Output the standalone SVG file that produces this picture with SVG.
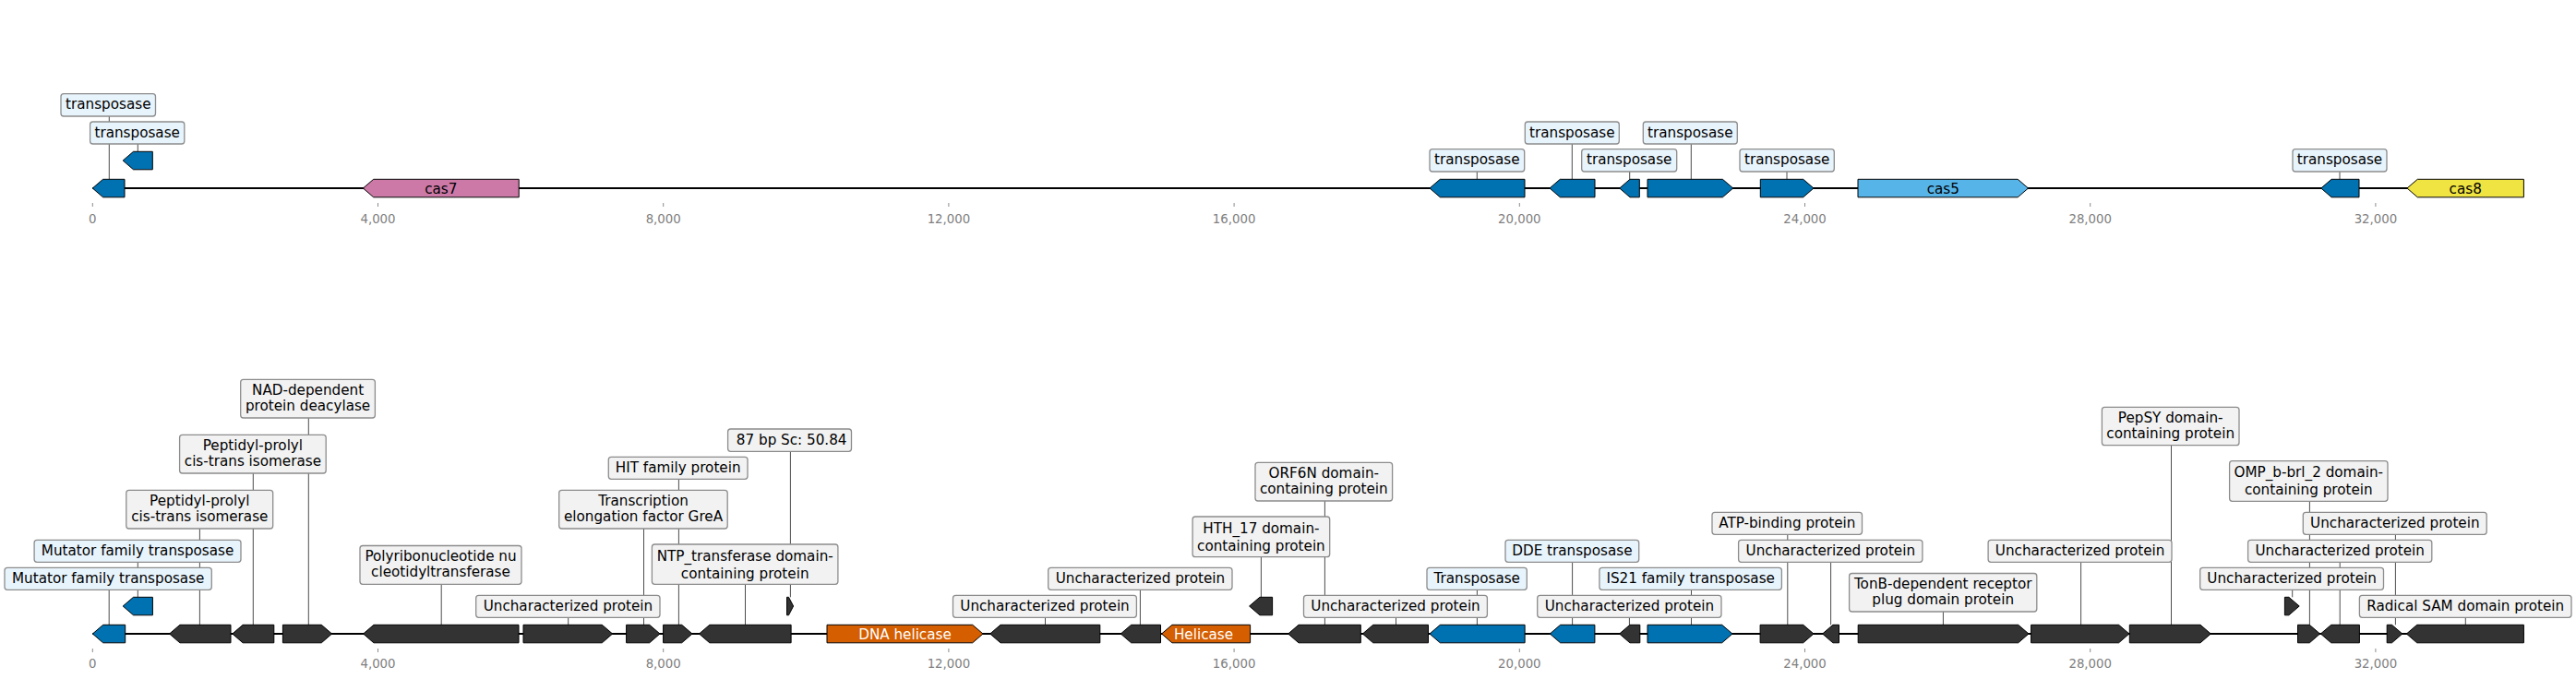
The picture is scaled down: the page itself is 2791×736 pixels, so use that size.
<svg xmlns="http://www.w3.org/2000/svg" width="2791" height="736" viewBox="0 0 2791 736">
<style>
.bb{stroke:#000;stroke-width:2}
.g{stroke:#000;stroke-width:1}
.dk{fill:#333333}
.bl{fill:#0072B2}
.pk{fill:#CC79A7}
.sk{fill:#56B4E9}
.ye{fill:#F0E442}
.or{fill:#D55E00}
.lb{fill:#e8f4fc;stroke:#8c8c8c;stroke-width:1.3}
.gy{fill:#f2f2f2;stroke:#8c8c8c;stroke-width:1.3}
.cn{stroke:#4d4d4d;stroke-width:1}
.tk{stroke:#8c8c8c;stroke-width:1}
text{font-family:"DejaVu Sans","Liberation Sans",sans-serif}
.l{font-size:15.2px;text-anchor:middle;fill:#000}
.w{font-size:15.2px;text-anchor:middle;fill:#fff}
.t{font-size:13.3px;text-anchor:middle;fill:#808080}
</style>
<rect width="2791" height="736" fill="#fff"/>
<g id="axes">
<line class="bb" x1="100.3" y1="204" x2="2734.4" y2="204"/>
<line class="bb" x1="100.3" y1="687" x2="2734.4" y2="687"/>
<g id="ticks-top">
<line class="tk" x1="100.3" y1="220" x2="100.3" y2="224"/><text class="t" x="100.3" y="241.5">0</text>
<line class="tk" x1="409.5" y1="220" x2="409.5" y2="224"/><text class="t" x="409.5" y="241.5">4,000</text>
<line class="tk" x1="718.7" y1="220" x2="718.7" y2="224"/><text class="t" x="718.7" y="241.5">8,000</text>
<line class="tk" x1="1027.9" y1="220" x2="1027.9" y2="224"/><text class="t" x="1027.9" y="241.5">12,000</text>
<line class="tk" x1="1337.1" y1="220" x2="1337.1" y2="224"/><text class="t" x="1337.1" y="241.5">16,000</text>
<line class="tk" x1="1646.3" y1="220" x2="1646.3" y2="224"/><text class="t" x="1646.3" y="241.5">20,000</text>
<line class="tk" x1="1955.5" y1="220" x2="1955.5" y2="224"/><text class="t" x="1955.5" y="241.5">24,000</text>
<line class="tk" x1="2264.7" y1="220" x2="2264.7" y2="224"/><text class="t" x="2264.7" y="241.5">28,000</text>
<line class="tk" x1="2573.9" y1="220" x2="2573.9" y2="224"/><text class="t" x="2573.9" y="241.5">32,000</text>
</g>
<g id="ticks-bottom">
<line class="tk" x1="100.3" y1="703" x2="100.3" y2="707"/><text class="t" x="100.3" y="724">0</text>
<line class="tk" x1="409.5" y1="703" x2="409.5" y2="707"/><text class="t" x="409.5" y="724">4,000</text>
<line class="tk" x1="718.7" y1="703" x2="718.7" y2="707"/><text class="t" x="718.7" y="724">8,000</text>
<line class="tk" x1="1027.9" y1="703" x2="1027.9" y2="707"/><text class="t" x="1027.9" y="724">12,000</text>
<line class="tk" x1="1337.1" y1="703" x2="1337.1" y2="707"/><text class="t" x="1337.1" y="724">16,000</text>
<line class="tk" x1="1646.3" y1="703" x2="1646.3" y2="707"/><text class="t" x="1646.3" y="724">20,000</text>
<line class="tk" x1="1955.5" y1="703" x2="1955.5" y2="707"/><text class="t" x="1955.5" y="724">24,000</text>
<line class="tk" x1="2264.7" y1="703" x2="2264.7" y2="707"/><text class="t" x="2264.7" y="724">28,000</text>
<line class="tk" x1="2573.9" y1="703" x2="2573.9" y2="707"/><text class="t" x="2573.9" y="724">32,000</text>
</g>
</g>
<g id="connectors">
<line class="cn" x1="118.3" y1="126" x2="118.3" y2="194.3"/>
<line class="cn" x1="149.3" y1="156" x2="149.3" y2="164.3"/>
<line class="cn" x1="1600.3" y1="186" x2="1600.3" y2="194.3"/>
<line class="cn" x1="1703.3" y1="156" x2="1703.3" y2="194.3"/>
<line class="cn" x1="1765.7" y1="186" x2="1765.7" y2="194.3"/>
<line class="cn" x1="1832.3" y1="156" x2="1832.3" y2="194.3"/>
<line class="cn" x1="1936" y1="186" x2="1936" y2="194.3"/>
<line class="cn" x1="2535" y1="186" x2="2535" y2="194.3"/>
<line class="cn" x1="118.2" y1="639.3" x2="118.2" y2="677.3"/>
<line class="cn" x1="149.3" y1="609.3" x2="149.3" y2="647.3"/>
<line class="cn" x1="216.4" y1="573" x2="216.4" y2="677.3"/>
<line class="cn" x1="274.3" y1="513" x2="274.3" y2="677.3"/>
<line class="cn" x1="334.3" y1="453" x2="334.3" y2="677.3"/>
<line class="cn" x1="478.2" y1="633.3" x2="478.2" y2="677.3"/>
<line class="cn" x1="615.7" y1="669.3" x2="615.7" y2="677.3"/>
<line class="cn" x1="697.5" y1="573" x2="697.5" y2="677.3"/>
<line class="cn" x1="735.4" y1="519.3" x2="735.4" y2="677.3"/>
<line class="cn" x1="807.5" y1="633.3" x2="807.5" y2="677.3"/>
<line class="cn" x1="856.4" y1="489.3" x2="856.4" y2="647.3"/>
<line class="cn" x1="1132.5" y1="669.3" x2="1132.5" y2="677.3"/>
<line class="cn" x1="1235.4" y1="639.3" x2="1235.4" y2="677.3"/>
<line class="cn" x1="1366.4" y1="603.7" x2="1366.4" y2="647.3"/>
<line class="cn" x1="1435.4" y1="543" x2="1435.4" y2="677.3"/>
<line class="cn" x1="1512.5" y1="669.3" x2="1512.5" y2="677.3"/>
<line class="cn" x1="1600.4" y1="639.3" x2="1600.4" y2="677.3"/>
<line class="cn" x1="1703.6" y1="609.3" x2="1703.6" y2="677.3"/>
<line class="cn" x1="1765.4" y1="669.3" x2="1765.4" y2="677.3"/>
<line class="cn" x1="1832.5" y1="639.3" x2="1832.5" y2="677.3"/>
<line class="cn" x1="1936.8" y1="579.3" x2="1936.8" y2="677.3"/>
<line class="cn" x1="1983.6" y1="609.3" x2="1983.6" y2="677.3"/>
<line class="cn" x1="2105.4" y1="663" x2="2105.4" y2="677.3"/>
<line class="cn" x1="2254.6" y1="609.3" x2="2254.6" y2="677.3"/>
<line class="cn" x1="2352.5" y1="482.7" x2="2352.5" y2="677.3"/>
<line class="cn" x1="2483.7" y1="639.3" x2="2483.7" y2="647.3"/>
<line class="cn" x1="2502.4" y1="543.3" x2="2502.4" y2="677.3"/>
<line class="cn" x1="2535.2" y1="609.3" x2="2535.2" y2="677.3"/>
<line class="cn" x1="2595.4" y1="579.3" x2="2595.4" y2="677.3"/>
<line class="cn" x1="2671.3" y1="669.3" x2="2671.3" y2="677.3"/>
</g>
<!-- top track -->
<g id="t1"><polygon class="g bl" points="100.3,204 111.6,194.3 135,194.3 135,213.8 111.6,213.8"/><rect class="lb" x="66" y="101.7" width="102.5" height="24.3" rx="3"/><text class="l" x="117.3" y="118.2">transposase</text></g>
<g id="t2"><polygon class="g bl" points="133.2,174 144.5,164.3 165.3,164.3 165.3,183.8 144.5,183.8"/><rect class="lb" x="97.6" y="132" width="102.2" height="24" rx="3"/><text class="l" x="148.7" y="148.5">transposase</text></g>
<g id="t3"><polygon class="g pk" points="393.4,204 404.7,194.3 562.2,194.3 562.2,213.8 404.7,213.8"/><text class="l" x="477.8" y="209.5">cas7</text></g>
<g id="t4"><polygon class="g bl" points="1549,204 1560.3,194.3 1652,194.3 1652,213.8 1560.3,213.8"/><rect class="lb" x="1549" y="161.7" width="102.7" height="24.3" rx="3"/><text class="l" x="1600.3" y="178.2">transposase</text></g>
<g id="t5"><polygon class="g bl" points="1679,204 1690.3,194.3 1728,194.3 1728,213.8 1690.3,213.8"/><rect class="lb" x="1652.3" y="132" width="102" height="24" rx="3"/><text class="l" x="1703.3" y="148.5">transposase</text></g>
<g id="t6"><polygon class="g bl" points="1754.7,204 1766,194.3 1776.3,194.3 1776.3,213.8 1766,213.8"/><rect class="lb" x="1713.7" y="161.7" width="103" height="24.3" rx="3"/><text class="l" x="1765.2" y="178.2">transposase</text></g>
<g id="t7"><polygon class="g bl" points="1785,194.3 1866.4,194.3 1877.7,204 1866.4,213.8 1785,213.8"/><rect class="lb" x="1780.3" y="132" width="102" height="24" rx="3"/><text class="l" x="1831.3" y="148.5">transposase</text></g>
<g id="t8"><polygon class="g bl" points="1907.3,194.3 1953.7,194.3 1965,204 1953.7,213.8 1907.3,213.8"/><rect class="lb" x="1885" y="161.7" width="102.3" height="24.3" rx="3"/><text class="l" x="1936.2" y="178.2">transposase</text></g>
<g id="t9"><polygon class="g sk" points="2013,194.3 2186.2,194.3 2197.5,204 2186.2,213.8 2013,213.8"/><text class="l" x="2105.3" y="209.5">cas5</text></g>
<g id="t10"><polygon class="g bl" points="2514.8,204 2526.1,194.3 2556,194.3 2556,213.8 2526.1,213.8"/><rect class="lb" x="2484" y="161.7" width="102" height="24.3" rx="3"/><text class="l" x="2535" y="178.2">transposase</text></g>
<g id="t11"><polygon class="g ye" points="2608,204 2619.3,194.3 2734.4,194.3 2734.4,213.8 2619.3,213.8"/><text class="l" x="2671.2" y="209.5">cas8</text></g>
<!-- bottom track -->
<g id="b1"><polygon class="g bl" points="100.4,687 111.7,677.3 135.7,677.3 135.7,696.8 111.7,696.8"/><rect class="lb" x="5" y="615.3" width="224.3" height="24" rx="3"/><text class="l" x="117.2" y="631.8">Mutator family transposase</text></g>
<g id="b2"><polygon class="g bl" points="133.2,657 144.5,647.3 165.4,647.3 165.4,666.8 144.5,666.8"/><rect class="lb" x="37.1" y="585.3" width="223.9" height="24" rx="3"/><text class="l" x="149.1" y="601.8">Mutator family transposase</text></g>
<g id="b3"><polygon class="g dk" points="183.6,687 194.9,677.3 250,677.3 250,696.8 194.9,696.8"/><rect class="gy" x="136.8" y="531.3" width="158.9" height="41.7" rx="3"/><text class="l" x="216.3" y="547.5">Peptidyl-prolyl</text><text class="l" x="216.3" y="565">cis-trans isomerase</text></g>
<g id="b4"><polygon class="g dk" points="251.8,687 263.1,677.3 296.8,677.3 296.8,696.8 263.1,696.8"/><rect class="gy" x="194.6" y="471.3" width="158.6" height="41.7" rx="3"/><text class="l" x="273.9" y="487.5">Peptidyl-prolyl</text><text class="l" x="273.9" y="505">cis-trans isomerase</text></g>
<g id="b5"><polygon class="g dk" points="306.4,677.3 348.3,677.3 359.6,687 348.3,696.8 306.4,696.8"/><rect class="gy" x="260.7" y="411.3" width="145.7" height="41.7" rx="3"/><text class="l" x="333.6" y="427.5">NAD-dependent</text><text class="l" x="333.6" y="445">protein deacylase</text></g>
<g id="b6"><polygon class="g dk" points="393.6,687 404.9,677.3 562,677.3 562,696.8 404.9,696.8"/><rect class="gy" x="390" y="591.5" width="175" height="41.8" rx="3"/><text class="l" x="477.5" y="607.7">Polyribonucleotide nu</text><text class="l" x="477.5" y="625.2">cleotidyltransferase</text></g>
<g id="b7"><polygon class="g dk" points="567,677.3 652.3,677.3 663.6,687 652.3,696.8 567,696.8"/><rect class="gy" x="515.7" y="645.3" width="199.3" height="24" rx="3"/><text class="l" x="615.4" y="661.8">Uncharacterized protein</text></g>
<g id="b8"><polygon class="g dk" points="678.6,677.3 703.7,677.3 715,687 703.7,696.8 678.6,696.8"/><rect class="gy" x="605.7" y="531.3" width="182.5" height="41.7" rx="3"/><text class="l" x="697" y="547.5">Transcription</text><text class="l" x="697" y="565">elongation factor GreA</text></g>
<g id="b9"><polygon class="g dk" points="718.6,677.3 738.7,677.3 750,687 738.7,696.8 718.6,696.8"/><rect class="gy" x="659.3" y="495.3" width="150.7" height="24" rx="3"/><text class="l" x="734.7" y="511.8">HIT family protein</text></g>
<g id="b10"><polygon class="g dk" points="757.5,687 768.8,677.3 857.1,677.3 857.1,696.8 768.8,696.8"/><rect class="gy" x="706.4" y="590" width="201.5" height="43.3" rx="3"/><text class="l" x="807.2" y="607.5">NTP_transferase domain-</text><text class="l" x="807.2" y="626.5">containing protein</text></g>
<g id="b11"><polygon class="g dk" points="852.5,647.3 854.5,647.3 859.6,657 854.5,666.8 852.5,666.8"/><rect class="gy" x="788.6" y="465" width="133.9" height="24.3" rx="3"/><text class="l" x="857.7" y="481.5">87 bp Sc: 50.84</text></g>
<g id="b12"><polygon class="g or" points="896,677.3 1053.7,677.3 1065,687 1053.7,696.8 896,696.8"/><text class="w" x="980.5" y="692.5">DNA helicase</text></g>
<g id="b13"><polygon class="g dk" points="1072.7,687 1084,677.3 1191.8,677.3 1191.8,696.8 1084,696.8"/><rect class="gy" x="1032.5" y="645.3" width="198.9" height="24" rx="3"/><text class="l" x="1132" y="661.8">Uncharacterized protein</text></g>
<g id="b14"><polygon class="g dk" points="1214.3,687 1225.6,677.3 1257.5,677.3 1257.5,696.8 1225.6,696.8"/><rect class="gy" x="1135.7" y="615.3" width="199.3" height="24" rx="3"/><text class="l" x="1235.4" y="631.8">Uncharacterized protein</text></g>
<g id="b15"><polygon class="g or" points="1258.6,687 1269.9,677.3 1354.6,677.3 1354.6,696.8 1269.9,696.8"/><text class="w" x="1304" y="692.5">Helicase</text></g>
<g id="b16"><polygon class="g dk" points="1353.6,657 1364.9,647.3 1378.6,647.3 1378.6,666.8 1364.9,666.8"/><rect class="gy" x="1292.1" y="560" width="148.6" height="43.7" rx="3"/><text class="l" x="1366.4" y="577.5">HTH_17 domain-</text><text class="l" x="1366.4" y="596.5">containing protein</text></g>
<g id="b17"><polygon class="g dk" points="1395.7,687 1407,677.3 1474.3,677.3 1474.3,696.8 1407,696.8"/><rect class="gy" x="1360" y="501.3" width="148.6" height="41.7" rx="3"/><text class="l" x="1434.3" y="517.5">ORF6N domain-</text><text class="l" x="1434.3" y="535">containing protein</text></g>
<g id="b18"><polygon class="g dk" points="1476.4,687 1487.7,677.3 1547.5,677.3 1547.5,696.8 1487.7,696.8"/><rect class="gy" x="1412.5" y="645.3" width="198.9" height="24" rx="3"/><text class="l" x="1512" y="661.8">Uncharacterized protein</text></g>
<g id="b19"><polygon class="g bl" points="1549,687 1560.3,677.3 1652.1,677.3 1652.1,696.8 1560.3,696.8"/><rect class="lb" x="1546" y="615.3" width="108.3" height="24" rx="3"/><text class="l" x="1600.2" y="631.8">Transposase</text></g>
<g id="b20"><polygon class="g bl" points="1679.3,687 1690.6,677.3 1727.9,677.3 1727.9,696.8 1690.6,696.8"/><rect class="lb" x="1631" y="585.3" width="144.7" height="24" rx="3"/><text class="l" x="1703.4" y="601.8">DDE transposase</text></g>
<g id="b21"><polygon class="g dk" points="1754.6,687 1765.9,677.3 1776.8,677.3 1776.8,696.8 1765.9,696.8"/><rect class="gy" x="1665.7" y="645.3" width="199.3" height="24" rx="3"/><text class="l" x="1765.4" y="661.8">Uncharacterized protein</text></g>
<g id="b22"><polygon class="g bl" points="1785,677.3 1865.7,677.3 1877,687 1865.7,696.8 1785,696.8"/><rect class="lb" x="1732.9" y="615.3" width="197.5" height="24" rx="3"/><text class="l" x="1831.7" y="631.8">IS21 family transposase</text></g>
<g id="b23"><polygon class="g dk" points="1907.1,677.3 1953.7,677.3 1965,687 1953.7,696.8 1907.1,696.8"/><rect class="gy" x="1855" y="555.3" width="162.5" height="24" rx="3"/><text class="l" x="1936.3" y="571.8">ATP-binding protein</text></g>
<g id="b24"><polygon class="g dk" points="1974.6,687 1985.9,677.3 1992.5,677.3 1992.5,696.8 1985.9,696.8"/><rect class="gy" x="1883.6" y="585.3" width="199.3" height="24" rx="3"/><text class="l" x="1983.3" y="601.8">Uncharacterized protein</text></g>
<g id="b25"><polygon class="g dk" points="2013.2,677.3 2186.7,677.3 2198,687 2186.7,696.8 2013.2,696.8"/><rect class="gy" x="2003.6" y="621.5" width="203.2" height="41.5" rx="3"/><text class="l" x="2105.2" y="637.7">TonB-dependent receptor</text><text class="l" x="2105.2" y="655.2">plug domain protein</text></g>
<g id="b26"><polygon class="g dk" points="2200.6,677.3 2295.6,677.3 2306.9,687 2295.6,696.8 2200.6,696.8"/><rect class="gy" x="2154.1" y="585.3" width="198.9" height="24" rx="3"/><text class="l" x="2253.6" y="601.8">Uncharacterized protein</text></g>
<g id="b27"><polygon class="g dk" points="2307.3,677.3 2384,677.3 2395.3,687 2384,696.8 2307.3,696.8"/><rect class="gy" x="2277.4" y="441.3" width="148.6" height="41.4" rx="3"/><text class="l" x="2351.7" y="457.5">PepSY domain-</text><text class="l" x="2351.7" y="475">containing protein</text></g>
<g id="b28"><polygon class="g dk" points="2475.4,647.3 2479.9,647.3 2491.2,657 2479.9,666.8 2475.4,666.8"/><rect class="gy" x="2383.7" y="615.3" width="198.8" height="24" rx="3"/><text class="l" x="2483.1" y="631.8">Uncharacterized protein</text></g>
<g id="b29"><polygon class="g dk" points="2489.5,677.3 2502.3,677.3 2513.6,687 2502.3,696.8 2489.5,696.8"/><rect class="gy" x="2415.6" y="499.7" width="171.4" height="43.6" rx="3"/><text class="l" x="2501.3" y="517.2">OMP_b-brl_2 domain-</text><text class="l" x="2501.3" y="536.2">containing protein</text></g>
<g id="b30"><polygon class="g dk" points="2514.4,687 2525.7,677.3 2556.4,677.3 2556.4,696.8 2525.7,696.8"/><rect class="gy" x="2435.6" y="585.3" width="199.2" height="24" rx="3"/><text class="l" x="2535.2" y="601.8">Uncharacterized protein</text></g>
<g id="b31"><polygon class="g dk" points="2586.2,677.3 2591.5,677.3 2602.8,687 2591.5,696.8 2586.2,696.8"/><rect class="gy" x="2495.3" y="555.3" width="198.9" height="24" rx="3"/><text class="l" x="2594.8" y="571.8">Uncharacterized protein</text></g>
<g id="b32"><polygon class="g dk" points="2607.4,687 2618.7,677.3 2734.4,677.3 2734.4,696.8 2618.7,696.8"/><rect class="gy" x="2556.4" y="645.3" width="229.6" height="24" rx="3"/><text class="l" x="2671.2" y="661.8">Radical SAM domain protein</text></g>
</svg>
